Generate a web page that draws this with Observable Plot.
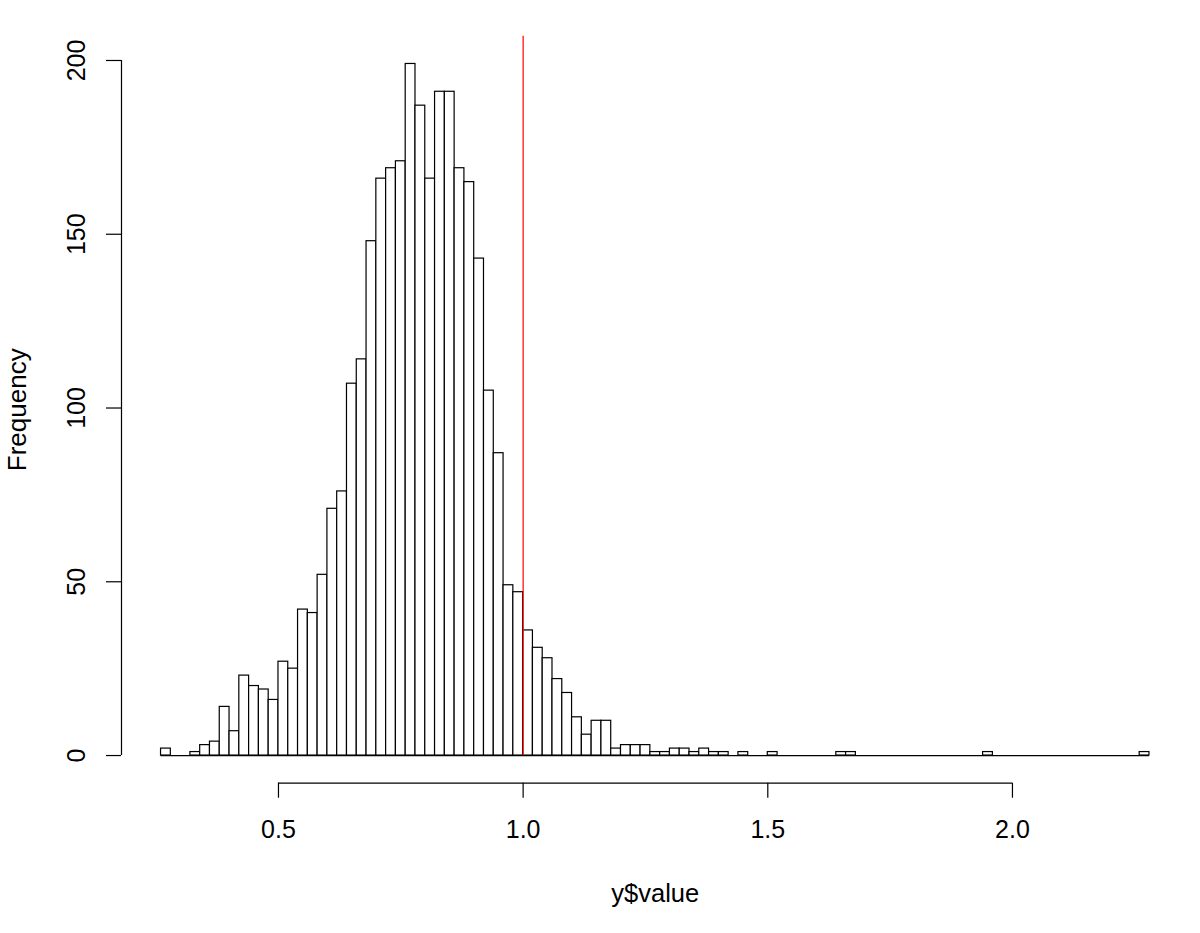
<!DOCTYPE html>
<html>
<head>
<meta charset="utf-8">
<script src="https://cdn.jsdelivr.net/npm/d3@7"></script>
<script src="https://cdn.jsdelivr.net/npm/@observablehq/plot@0.6"></script>
<style>
  html, body { margin: 0; padding: 0; background: #fff; }
  svg { display: block; }
</style>
</head>
<body>
<div id="chart"></div>
<script>
// Histogram breaks (R hist, width 0.02) and counts
const breakStart = 0.26;
const breakWidth = 0.02;
const counts = [
  2, 0, 0, 1, 3, 4, 14, 7, 23, 20, 19, 16, 27, 25, 42, 41, 52,
  71, 76, 107, 114, 148, 166, 169, 171, 199, 187, 166, 191, 191, 169, 165,
  143, 105, 87, 49, 47, 36, 31, 28, 22, 18, 11, 6, 10, 10, 2, 3, 3, 3,
  1, 1, 2, 2, 1, 2, 1, 1, 0, 1, 0, 0, 1,
  0, 0, 0, 0, 0, 0, 1, 1,
  0, 0, 0, 0, 0, 0, 0, 0, 0, 0, 0, 0, 0, 1,
  0, 0, 0, 0, 0, 0, 0, 0, 0, 0, 0, 0, 0, 0, 0, 1
];
const xTicks = [0.5, 1.0, 1.5, 2.0];
const yTicks = [0, 50, 100, 150, 200];
const refLine = [1.0];
const xLabel = "y$value";
const yLabel = "Frequency";

const bins = counts.map((c, i) => ({
  x1: +(breakStart + i * breakWidth).toFixed(2),
  x2: +(breakStart + (i + 1) * breakWidth).toFixed(2),
  count: c
}));
const xMin = bins[0].x1, xMax = bins[bins.length - 1].x2;
const xExt = (xMax - xMin) * 0.04;
const yMax = d3.max(counts);
const yExt = yMax * 0.04;
const xDomain = [xMin - xExt, xMax + xExt];
const yDomain = [-yExt, yMax + yExt];

const chart = Plot.plot({
  width: 1200,
  height: 933,
  marginLeft: 121,
  marginRight: 11.5,
  marginTop: 35.8,
  marginBottom: 150.3,
  style: { fontFamily: "'Liberation Sans', Arial, Helvetica, sans-serif", fontSize: "25px", color: "black", background: "white" },
  x: { domain: xDomain, axis: null },
  y: { domain: yDomain, axis: null },
  marks: [
    Plot.ruleY([0], { x1: xMin, x2: xMax, stroke: "black", strokeWidth: 1.2 }),
    Plot.rectY(bins.filter(d => d.count > 0), { x1: "x1", x2: "x2", y1: 0, y2: "count", fill: "white", stroke: "black", strokeWidth: 1.2 }),
    Plot.ruleX(refLine, { y1: 0, y2: yDomain[1], stroke: "#ff0000", strokeWidth: 1.2 }),
    // x axis
    Plot.ruleY([yDomain[0]], { x1: xTicks[0], x2: xTicks[xTicks.length - 1], stroke: "black", strokeWidth: 1.2 }),
    Plot.axisX({ ticks: xTicks, tickSize: 15, tickPadding: 22, tickFormat: d3.format(".1f"), label: null, fontSize: 25, strokeWidth: 1.2 }),
    // y axis
    Plot.ruleX([xDomain[0]], { y1: yTicks[0], y2: yTicks[yTicks.length - 1], stroke: "black", strokeWidth: 1.2 }),
    Plot.axisY({ ticks: yTicks, tickSize: 15, tickPadding: 22, tickRotate: -90, label: null, fontSize: 25, strokeWidth: 1.2 }),
    // axis titles
    Plot.text([xLabel], { frameAnchor: "bottom", dy: 119, lineAnchor: "bottom", textAnchor: "middle", fontSize: 25.5, fill: "black" }),
    Plot.text([yLabel], { frameAnchor: "left", dx: -96, rotate: -90, lineAnchor: "bottom", textAnchor: "middle", fontSize: 26, fill: "black" })
  ]
});
document.getElementById("chart").appendChild(chart);
</script>
</body>
</html>
